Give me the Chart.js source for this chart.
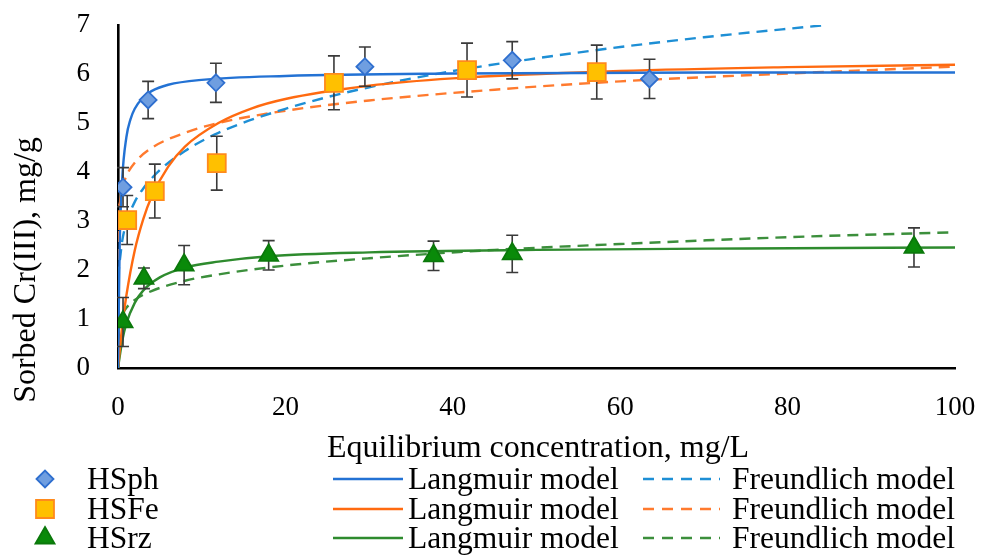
<!DOCTYPE html>
<html>
<head>
<meta charset="utf-8">
<script src="https://cdn.jsdelivr.net/npm/chart.js@4.4.0/dist/chart.umd.min.js"></script>
<style>
html,body{margin:0;padding:0;background:#fff;}
</style>
</head>
<body>
<canvas id="sorption" width="983" height="558"></canvas>
<script>
// measured points (x = equilibrium conc., y = sorbed Cr(III)), error = +/- half bar
var sphX = [0.6, 3.6, 11.7, 29.5, 47.1, 63.5];
var sphY = [3.69, 5.47, 5.82, 6.15, 6.28, 5.9];
var sphErr = [0.4, 0.38, 0.4, 0.4, 0.38, 0.4];

var feX = [1.1, 4.4, 11.8, 25.8, 41.7, 57.2];
var feY = [3.02, 3.61, 4.18, 5.82, 6.08, 6.04];
var feErr = [0.5, 0.55, 0.55, 0.55, 0.55, 0.55];

var rzX = [0.6, 3.1, 7.9, 18.0, 37.7, 47.1, 95.1];
var rzY = [0.94, 1.83, 2.1, 2.3, 2.29, 2.33, 2.46];
var rzErr = [0.5, 0.21, 0.4, 0.3, 0.3, 0.38, 0.4];

// model curves
var langSphX = [0, 0.2, 0.5, 1, 1.5, 2, 3, 4, 6, 10, 20, 40, 70, 100];
var langSphY = [0, 2.49, 3.85, 4.71, 5.08, 5.29, 5.52, 5.65, 5.78, 5.88, 5.96, 6.01, 6.03, 6.03];
var freSphX = [0, 0.05, 0.2, 0.5, 1, 2, 3, 5, 8, 12, 20, 30, 40, 50, 60, 70, 84];
var freSphY = [0, 1.66, 2.17, 2.59, 2.96, 3.39, 3.66, 4.04, 4.43, 4.8, 5.29, 5.73, 6.06, 6.32, 6.55, 6.75, 6.99];

var langFeX = [0, 0.5, 1, 2, 3, 4, 6, 8, 12, 16, 20, 30, 40, 60, 80, 100];
var langFeY = [0, 0.85, 1.48, 2.4, 3.03, 3.49, 4.11, 4.52, 5.0, 5.3, 5.49, 5.76, 5.91, 6.06, 6.14, 6.19];
var freFeX = [0, 0.05, 0.2, 0.5, 1, 2, 4, 8, 12, 20, 30, 45, 60, 80, 100];
var freFeY = [0, 2.93, 3.35, 3.66, 3.92, 4.19, 4.49, 4.8, 5.0, 5.25, 5.46, 5.68, 5.85, 6.01, 6.15];

var langRzX = [0, 0.5, 1, 2, 3, 5, 8, 12, 18, 30, 50, 75, 100];
var langRzY = [0, 0.55, 0.91, 1.33, 1.58, 1.85, 2.05, 2.17, 2.28, 2.36, 2.41, 2.44, 2.46];
var freRzX = [0, 0.05, 0.2, 0.5, 1, 2, 4, 8, 12, 20, 30, 45, 60, 80, 100];
var freRzY = [0, 0.72, 0.93, 1.09, 1.23, 1.39, 1.57, 1.78, 1.91, 2.09, 2.24, 2.41, 2.53, 2.67, 2.77];

var seriesNames = ['HSph', 'HSFe', 'HSrz'];
var modelNames = ['Langmuir model', 'Freundlich model'];
var xTitle = 'Equilibrium concentration, mg/L';
var yTitle = 'Sorbed Cr(III), mg/g';

var FONT = '"Liberation Serif", "Times New Roman", serif';
var langColors = ['#2372d4', '#ff6a10', '#2e8b2e'];
var freColors = ['#1e8fd5', '#ff7a2e', '#3c8f3c'];
var errList = [sphErr, feErr, rzErr];

function pairs(xs, ys){
	var out = [];
	for (var i = 0; i < xs.length; i++) out.push({x: xs[i], y: ys[i]});
	return out;
}

function markerSet(label, xs, ys, style, r, bg, border){
	return { label: label, data: pairs(xs, ys), showLine: false,
		pointStyle: style, pointRadius: r, pointHoverRadius: r,
		backgroundColor: bg, borderColor: border, borderWidth: 1.8 };
}
function curveSet(label, xs, ys, color, dashed){
	return { label: label, data: pairs(xs, ys), showLine: true, pointRadius: 0,
		borderColor: color, borderWidth: 2.4, borderDash: dashed ? [11, 7] : [],
		cubicInterpolationMode: 'monotone', fill: false };
}

// error bars go between the curves and the markers
var errorBars = {
	id: 'errorBars',
	beforeDatasetDraw: function(chart, args){
		if (args.index !== 2) return;
		var ctx = chart.ctx, xs = chart.scales.x, ys = chart.scales.y;
		ctx.save();
		ctx.strokeStyle = '#3a3a3a';
		ctx.lineWidth = 1.6;
		for (var d = 0; d < 3; d++) {
			var pts = chart.data.datasets[d].data;
			for (var i = 0; i < pts.length; i++) {
				var px = xs.getPixelForValue(pts[i].x);
				var top = ys.getPixelForValue(pts[i].y + errList[d][i]);
				var bot = ys.getPixelForValue(pts[i].y - errList[d][i]);
				ctx.beginPath();
				ctx.moveTo(px, top); ctx.lineTo(px, bot);
				ctx.moveTo(px - 6, top); ctx.lineTo(px + 6, top);
				ctx.moveTo(px - 6, bot); ctx.lineTo(px + 6, bot);
				ctx.stroke();
			}
		}
		ctx.restore();
	}
};

function drawMarker(ctx, ds, x, y){
	var r = ds.pointRadius;
	ctx.beginPath();
	if (ds.pointStyle == 'rectRot') {
		ctx.moveTo(x - r, y); ctx.lineTo(x, y - r); ctx.lineTo(x + r, y); ctx.lineTo(x, y + r);
	} else if (ds.pointStyle == 'rect') {
		var s = r * Math.SQRT1_2;
		ctx.rect(x - s, y - s, 2 * s, 2 * s);
	} else {
		ctx.moveTo(x, y - r);
		ctx.lineTo(x + r * Math.sin(Math.PI * 2 / 3), y - r * Math.cos(Math.PI * 2 / 3));
		ctx.lineTo(x - r * Math.sin(Math.PI * 2 / 3), y - r * Math.cos(Math.PI * 2 / 3));
	}
	ctx.closePath();
	ctx.fillStyle = ds.backgroundColor;
	ctx.strokeStyle = ds.borderColor;
	ctx.lineWidth = ds.borderWidth;
	ctx.fill(); ctx.stroke();
}

var titlesAndLegend = {
	id: 'titlesAndLegend',
	afterDraw: function(chart){
		var ctx = chart.ctx;
		ctx.save();
		ctx.fillStyle = '#000';
		ctx.font = '32px ' + FONT;
		ctx.textAlign = 'center';
		ctx.textBaseline = 'alphabetic';
		ctx.fillText(xTitle, 538, 457);

		ctx.save();
		ctx.translate(35, 270);
		ctx.rotate(-Math.PI / 2);
		ctx.fillText(yTitle, 0, 0);
		ctx.restore();

		// legend: 3 rows x (marker | Langmuir | Freundlich)
		ctx.font = '31.5px ' + FONT;
		ctx.textAlign = 'left';
		var rowY = [479, 509, 538];
		for (var r = 0; r < 3; r++) {
			var y = rowY[r];
			drawMarker(ctx, chart.data.datasets[r], 45, y);
			ctx.fillStyle = '#000';
			ctx.fillText(seriesNames[r], 87, y + 10);

			ctx.strokeStyle = langColors[r];
			ctx.lineWidth = 2.6;
			ctx.setLineDash([]);
			ctx.beginPath(); ctx.moveTo(333, y); ctx.lineTo(403, y); ctx.stroke();
			ctx.fillText(modelNames[0], 408, y + 10);

			ctx.strokeStyle = freColors[r];
			ctx.setLineDash([11, 8]);
			ctx.beginPath(); ctx.moveTo(643, y); ctx.lineTo(720, y); ctx.stroke();
			ctx.setLineDash([]);
			ctx.fillText(modelNames[1], 732, y + 10);
		}
		ctx.restore();
	}
};

var datasets = [
	markerSet('HSph', sphX, sphY, 'rectRot', 8.5, '#6f9ee0', '#2f6fcf'),
	markerSet('HSFe', feX, feY, 'rect', 12.7, '#ffc000', '#ff8a1c'),
	markerSet('HSrz', rzX, rzY, 'triangle', 11, '#0a8a0a', '#0b780b'),
	curveSet('HSph Langmuir', langSphX, langSphY, langColors[0], false),
	curveSet('HSFe Langmuir', langFeX, langFeY, langColors[1], false),
	curveSet('HSrz Langmuir', langRzX, langRzY, langColors[2], false),
	curveSet('HSph Freundlich', freSphX, freSphY, freColors[0], true),
	curveSet('HSFe Freundlich', freFeX, freFeY, freColors[1], true),
	curveSet('HSrz Freundlich', freRzX, freRzY, freColors[2], true)
];

new Chart(document.getElementById('sorption'), {
	type: 'scatter',
	data: { datasets: datasets },
	options: {
		responsive: false,
		animation: false,
		layout: { padding: { top: 25, right: 28, left: 0, bottom: 0 } },
		plugins: { legend: { display: false }, tooltip: { enabled: false } },
		scales: {
			x: {
				type: 'linear', min: 0, max: 100,
				grid: { display: false, drawTicks: false },
				border: { display: true, color: '#000', width: 2.6 },
				ticks: { stepSize: 20, padding: 24, color: '#000', font: { family: FONT, size: 27 } },
				afterFit: function(scale){
					scale.height = 190;
					scale.paddingLeft = 0; scale.paddingRight = 0;
				}
			},
			y: {
				min: 0, max: 7,
				grid: { display: false, drawTicks: false },
				border: { display: true, color: '#000', width: 2.6 },
				ticks: { stepSize: 1, padding: 28, color: '#000', font: { family: FONT, size: 27 } },
				afterFit: function(scale){
					scale.width = 118;
					scale.paddingTop = 0; scale.paddingBottom = 0;
				}
			}
		}
	},
	plugins: [errorBars, titlesAndLegend]
});
</script>
</body>
</html>
